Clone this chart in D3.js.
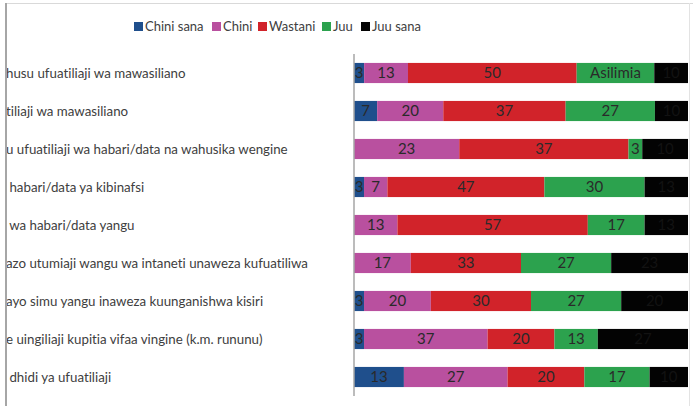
<!DOCTYPE html>
<html>
<head>
<meta charset="utf-8">
<script src="https://cdn.jsdelivr.net/npm/d3@7"></script>
<style>
  body { margin: 0; background: #fff; }
  svg { display: block; font-family: Lato, "Open Sans", sans-serif; font-variant-ligatures: none; }
</style>
</head>
<body>
<svg id="chart" width="693" height="406"></svg>
<script>
/* data */
const categories = [
  "husu ufuatiliaji wa mawasiliano",
  "tiliaji wa mawasiliano",
  "u ufuatiliaji wa habari/data na wahusika wengine",
  " habari/data ya kibinafsi",
  " wa habari/data yangu",
  "azo utumiaji wangu wa intaneti unaweza kufuatiliwa",
  "ayo simu yangu inaweza kuunganishwa kisiri",
  "e uingiliaji kupitia vifaa vingine (k.m. rununu)",
  " dhidi ya ufuatiliaji"
];
const seriesNames = ["Chini sana", "Chini", "Wastani", "Juu", "Juu sana"];
const chiniSana = [3, 7, 0, 3, 0, 0, 3, 3, 13];
const chini     = [13, 20, 23, 7, 13, 17, 20, 37, 27];
const wastani   = [50, 37, 37, 47, 57, 33, 30, 20, 20];
const juu       = [23, 27, 3, 30, 17, 27, 27, 13, 17];
const juuSana   = [10, 10, 10, 13, 13, 23, 20, 27, 10];
/* first row's green segment carries a text instead of its number */
const juuText   = ["Asilimia"];

const colors = ["#1f4f8c", "#b9509f", "#d1232a", "#2ca24e", "#030303"];

const rows = categories.map((c, i) => ({
  cat: c,
  "Chini sana": chiniSana[i],
  "Chini": chini[i],
  "Wastani": wastani[i],
  "Juu": juu[i],
  "Juu sana": juuSana[i]
}));

const svg = d3.select("#chart");

/* frame lines */
svg.append("line").attr("x1", 7).attr("x2", 693).attr("y1", 3.5).attr("y2", 3.5)
  .attr("stroke", "#d9d9d9");
svg.append("line").attr("x1", 6).attr("x2", 6).attr("y1", 3).attr("y2", 406)
  .attr("stroke", "#a6a6a6").attr("stroke-width", 2);
svg.append("line").attr("x1", 689.5).attr("x2", 689.5).attr("y1", 3).attr("y2", 406)
  .attr("stroke", "#e3e3e3");

const x = d3.scaleLinear().domain([0, 1]).range([354, 688]);
const y = d3.scaleBand().domain(categories).range([54, 396])
  .paddingInner(0.47).paddingOuter(0.235);

const stacked = d3.stack().keys(seriesNames).offset(d3.stackOffsetExpand)(rows);

const layers = svg.append("g").selectAll("g")
  .data(stacked)
  .join("g")
  .attr("fill", (d, i) => colors[i]);

layers.selectAll("rect")
  .data(d => d)
  .join("rect")
  .attr("x", d => x(d[0]))
  .attr("y", d => y(d.data.cat))
  .attr("width", d => x(d[1]) - x(d[0]))
  .attr("height", y.bandwidth());

/* value labels */
stacked.forEach((layer, si) => {
  svg.append("g").selectAll("text")
    .data(layer.filter(d => d.data[layer.key] > 0))
    .join("text")
    .attr("x", d => (x(d[0]) + x(d[1])) / 2)
    .attr("y", d => y(d.data.cat) + y.bandwidth() / 2)
    .attr("dy", "0.36em")
    .attr("text-anchor", "middle")
    .attr("font-size", 15)
    .attr("fill", si === 4 ? "#121212" : "#2a2a2a")
    .text(d => {
      const idx = categories.indexOf(d.data.cat);
      if (layer.key === "Juu" && juuText[idx]) return juuText[idx];
      return d.data[layer.key];
    });
});

/* category axis */
const yAxis = svg.append("g")
  .attr("transform", "translate(354,0)")
  .call(d3.axisLeft(y).tickSize(0).tickFormat(""));
yAxis.select(".domain").attr("stroke", "#a6a6a6").attr("stroke-width", 1.5)
  .attr("d", "M0,54V396");

svg.append("defs").append("clipPath").attr("id", "lab")
  .append("rect").attr("x", 7).attr("y", 0).attr("width", 340).attr("height", 406);

svg.append("g").attr("clip-path", "url(#lab)")
  .selectAll("text")
  .data(categories)
  .join("text")
  .attr("x", 6)
  .attr("y", d => y(d) + y.bandwidth() / 2)
  .attr("dy", "0.36em")
  .attr("font-size", 13.3)
  .attr("fill", "#404040")
  .style("white-space", "pre")
  .text(d => d);

/* legend */
const legendX = [134, 212, 258, 322, 361];
const legend = svg.append("g").selectAll("g")
  .data(seriesNames)
  .join("g")
  .attr("transform", (d, i) => `translate(${legendX[i]},22)`);
legend.append("rect").attr("width", 9).attr("height", 9)
  .attr("fill", (d, i) => colors[i]);
legend.append("text")
  .attr("x", 11).attr("y", 4.5).attr("dy", "0.36em")
  .attr("font-size", 13).attr("fill", "#404040")
  .text(d => d);
</script>
</body>
</html>
